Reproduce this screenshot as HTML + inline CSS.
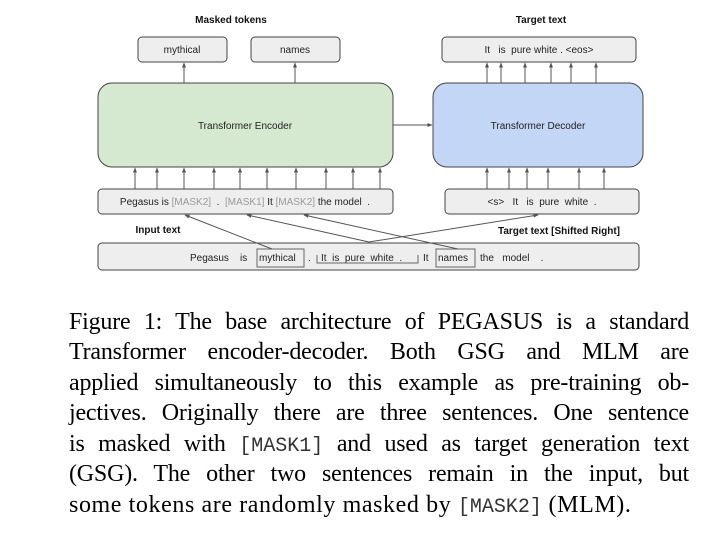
<!DOCTYPE html>
<html><head><meta charset="utf-8"><style>
body{margin:0;background:#fff;width:716px;height:541px;overflow:hidden;position:relative}
svg{position:absolute;left:0;top:0}
.cap{position:absolute;left:69px;width:620px;font-family:"Liberation Serif",serif;font-size:24px;line-height:30px;text-align:justify;text-align-last:justify;white-space:nowrap;color:#000;letter-spacing:-0.2px}
.cap code{font-family:"Liberation Mono",monospace;font-size:20px;color:#333;letter-spacing:0}
</style></head><body>
<svg width="716" height="300" viewBox="0 0 716 300" font-family="Liberation Sans, sans-serif">
<defs><marker id="a" viewBox="0 0 10 10" refX="9" refY="5" markerWidth="5" markerHeight="5" orient="auto"><path d="M0,1 L10,5 L0,9z" fill="#555"/></marker></defs>
<g font-size="10" font-weight="bold" text-anchor="middle" fill="#111">
<text x="231" y="23">Masked tokens</text>
<text x="541" y="23">Target text</text>
<text x="158" y="233">Input text</text>
<text x="559" y="234">Target text  [Shifted Right]</text>
</g>
<g stroke="#444" stroke-width="1" fill="#eeeeee">
<rect x="138" y="37" width="89" height="25" rx="4"/>
<rect x="251" y="37" width="89" height="25" rx="4"/>
<rect x="442" y="37" width="194" height="25" rx="4"/>
<rect x="98" y="83" width="295" height="84" rx="14" fill="#d5e8d0"/>
<rect x="433" y="83" width="210" height="84" rx="14" fill="#c3d6f5"/>
<rect x="98" y="189" width="295" height="25" rx="4"/>
<rect x="445" y="189" width="194" height="25" rx="4"/>
<rect x="98" y="243" width="541" height="27" rx="4"/>
<rect x="257" y="249" width="47" height="18" fill="none" stroke="#666"/>
<rect x="436" y="249" width="39" height="18" fill="none" stroke="#666"/>
</g>
<path d="M317,255 V263 H418 V255" stroke="#666" fill="none"/>
<g stroke="#555" stroke-width="1" marker-end="url(#a)">
<line x1="184" y1="83" x2="184" y2="63"/><line x1="295" y1="83" x2="295" y2="63"/>
<line x1="487" y1="83" x2="487" y2="63"/><line x1="501" y1="83" x2="501" y2="63"/><line x1="525" y1="83" x2="525" y2="63"/><line x1="551" y1="83" x2="551" y2="63"/><line x1="571" y1="83" x2="571" y2="63"/><line x1="596" y1="83" x2="596" y2="63"/>
<line x1="393" y1="125" x2="432" y2="125"/>
<line x1="135" y1="189" x2="135" y2="168"/><line x1="157" y1="189" x2="157" y2="168"/><line x1="184" y1="189" x2="184" y2="168"/><line x1="214" y1="189" x2="214" y2="168"/><line x1="240" y1="189" x2="240" y2="168"/><line x1="267" y1="189" x2="267" y2="168"/><line x1="296" y1="189" x2="296" y2="168"/><line x1="326" y1="189" x2="326" y2="168"/><line x1="353" y1="189" x2="353" y2="168"/><line x1="380" y1="189" x2="380" y2="168"/>
<line x1="487" y1="189" x2="487" y2="168"/><line x1="509" y1="189" x2="509" y2="168"/><line x1="527" y1="189" x2="527" y2="168"/><line x1="548" y1="189" x2="548" y2="168"/><line x1="579" y1="189" x2="579" y2="168"/><line x1="604" y1="189" x2="604" y2="168"/>
<line x1="272" y1="249" x2="185" y2="215"/>
<line x1="369" y1="242" x2="247" y2="215"/>
<line x1="369" y1="242" x2="538" y2="215"/>
<line x1="458" y1="249" x2="304" y2="215"/>
</g>
<g font-size="10" fill="#222" text-anchor="middle">
<text x="182" y="53">mythical</text>
<text x="295" y="53">names</text>
<text x="539" y="53" xml:space="preserve">It   is  pure white . &lt;eos&gt;</text>
<text x="245" y="129">Transformer Encoder</text>
<text x="538" y="129">Transformer Decoder</text>
<text x="245" y="205" xml:space="preserve">Pegasus is <tspan fill="#999">[MASK2]</tspan>  .  <tspan fill="#999">[MASK1]</tspan> It <tspan fill="#999">[MASK2]</tspan> the model  .</text>
<text x="542" y="205" xml:space="preserve">&lt;s&gt;   It   is  pure  white  .</text>
</g>
<g font-size="10" fill="#222">
<text x="190" y="261" xml:space="preserve">Pegasus    is</text>
<text x="259" y="261">mythical</text>
<text x="308" y="261">.</text>
<text x="321" y="261" xml:space="preserve">It  is  pure  white  .</text>
<text x="423" y="261">It</text>
<text x="438" y="261">names</text>
<text x="480" y="261" xml:space="preserve">the   model    .</text>
</g>
</svg>
<div class="cap" style="top:307px">Figure 1: The base architecture of PEGASUS is a standard</div>
<div class="cap" style="top:337px">Transformer encoder-decoder.  Both GSG and MLM are</div>
<div class="cap" style="top:368px">applied simultaneously to this example as pre-training ob-</div>
<div class="cap" style="top:398px">jectives. Originally there are three sentences. One sentence</div>
<div class="cap" style="top:429px">is masked with <code>[MASK1]</code> and used as target generation text</div>
<div class="cap" style="top:459px">(GSG). The other two sentences remain in the input, but</div>
<div class="cap" style="top:490px;text-align-last:left;width:auto;letter-spacing:0.6px">some tokens are randomly masked by <code>[MASK2]</code> (MLM).</div>
</body></html>
